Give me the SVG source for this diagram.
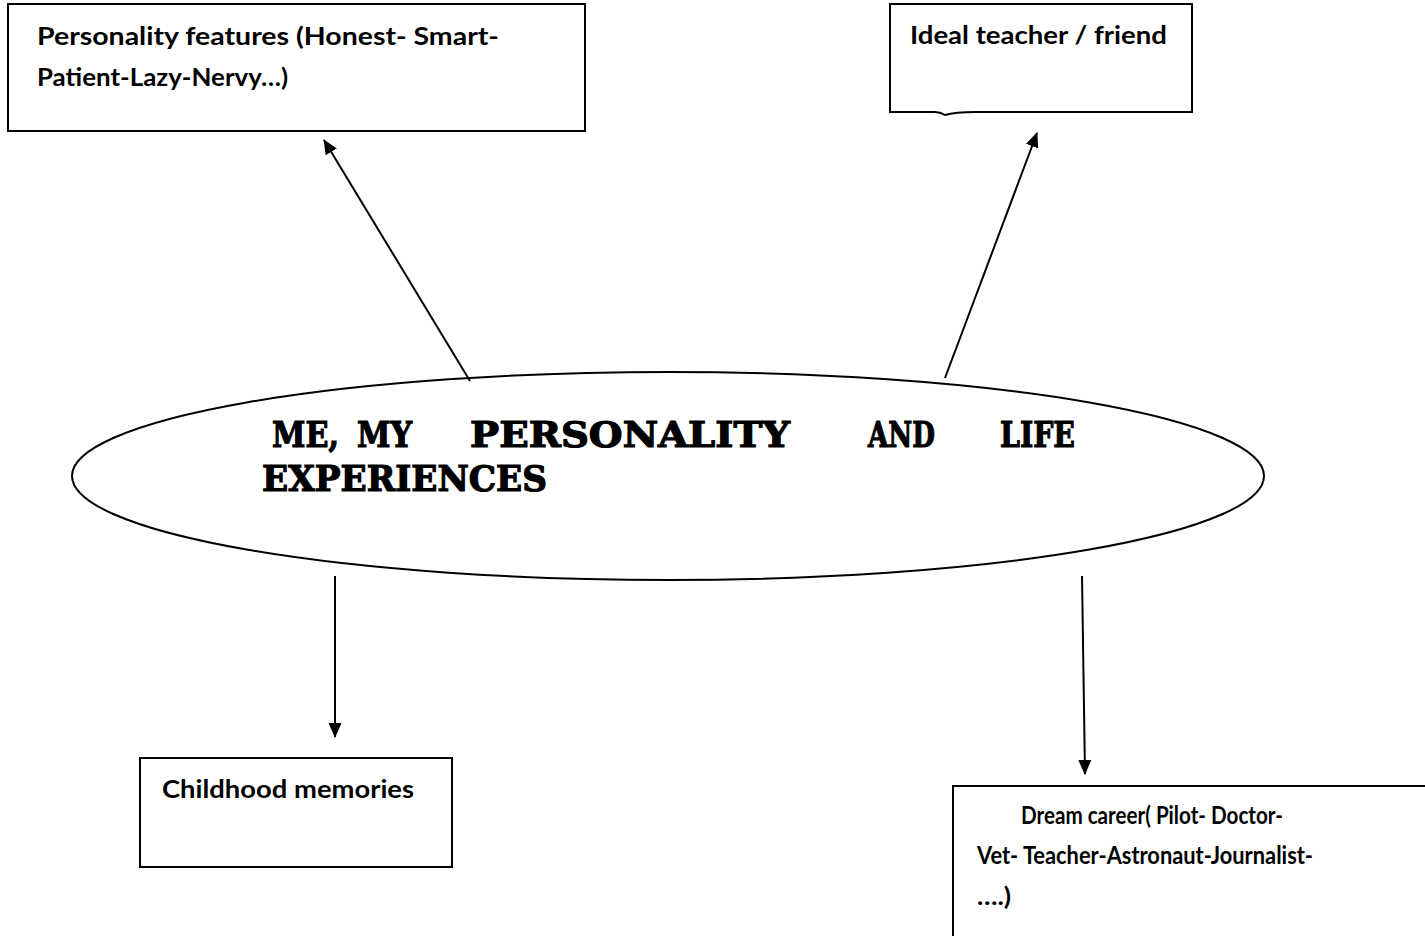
<svg xmlns="http://www.w3.org/2000/svg" width="1425" height="936" viewBox="0 0 1425 936">
<defs>
<marker id="ah" markerWidth="16" markerHeight="16" refX="14" refY="6.5" orient="auto" markerUnits="userSpaceOnUse" viewBox="0 0 16 13">
<path d="M0,0 L15,6.5 L0,13 z" fill="#000"/>
</marker>
<style>
.box{fill:#fff;stroke:#000;stroke-width:2}
.lbl{font-family:Lato,"Open Sans",sans-serif;font-weight:bold;font-size:24px;fill:#000}
.ttl{font-family:"DejaVu Serif","Liberation Serif",serif;font-weight:bold;font-size:36px;fill:#000;stroke:#000;stroke-width:1.2}
.con{stroke:#000;stroke-width:2;fill:none;marker-end:url(#ah)}
</style>
</defs>
<rect width="1425" height="936" fill="#fff"/>
<g id="connectors">
<line class="con" x1="470" y1="381" x2="324" y2="140"/>
<line class="con" x1="945" y1="378" x2="1037" y2="133"/>
<line class="con" x1="335" y1="576" x2="335" y2="737"/>
<line class="con" x1="1082" y1="576" x2="1085" y2="774"/>
</g>
<g id="center">
<ellipse cx="668" cy="476" rx="596" ry="104" fill="none" stroke="#000" stroke-width="2"/>
<text class="ttl" x="272" y="447" textLength="67" lengthAdjust="spacingAndGlyphs">ME,</text>
<text class="ttl" x="357" y="447" textLength="55" lengthAdjust="spacingAndGlyphs">MY</text>
<text class="ttl" x="470" y="447" textLength="320" lengthAdjust="spacingAndGlyphs">PERSONALITY</text>
<text class="ttl" x="868" y="447" textLength="67" lengthAdjust="spacingAndGlyphs">AND</text>
<text class="ttl" x="1000" y="447" textLength="75" lengthAdjust="spacingAndGlyphs">LIFE</text>
<text class="ttl" x="262" y="491" textLength="285" lengthAdjust="spacingAndGlyphs">EXPERIENCES</text>
</g>
<g id="personality">
<rect class="box" x="8" y="4" width="577" height="127"/>
<text class="lbl" x="37" y="45" textLength="462" lengthAdjust="spacingAndGlyphs">Personality features (Honest- Smart-</text>
<text class="lbl" x="37" y="86" textLength="251" lengthAdjust="spacingAndGlyphs">Patient-Lazy-Nervy…)</text>
</g>
<g id="ideal">
<path class="box" d="M890,4 H1192 V112 H975 Q955,112 945,115 Q940,112 935,112 H890 Z"/>
<text class="lbl" x="910" y="44" textLength="257" lengthAdjust="spacingAndGlyphs">Ideal teacher / friend</text>
</g>
<g id="childhood">
<rect class="box" x="140" y="758" width="312" height="109"/>
<text class="lbl" x="162" y="798" textLength="252" lengthAdjust="spacingAndGlyphs">Childhood memories</text>
</g>
<g id="dream">
<rect class="box" x="953" y="786" width="480" height="160"/>
<text class="lbl" x="1021" y="824" textLength="262" lengthAdjust="spacingAndGlyphs">Dream career( Pilot- Doctor-</text>
<text class="lbl" x="977" y="864" textLength="336" lengthAdjust="spacingAndGlyphs">Vet- Teacher-Astronaut-Journalist-</text>
<text class="lbl" x="977" y="905" textLength="34" lengthAdjust="spacingAndGlyphs">….)</text>
</g>
</svg>
